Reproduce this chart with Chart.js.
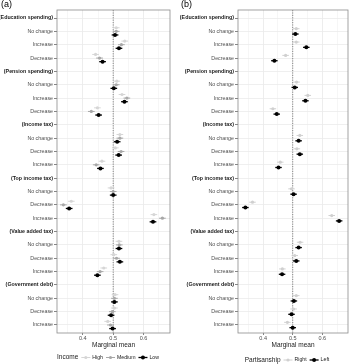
<!DOCTYPE html>
<html><head><meta charset="utf-8">
<script src="https://cdn.jsdelivr.net/npm/chart.js@4"></script>
<style>
html,body{margin:0;padding:0;background:#fff;}
#wrap{position:relative;width:350px;height:364px;}
canvas{position:absolute;top:0;}
#ca{left:0;} #cb{left:175px;}
</style></head><body>
<div id="wrap"><canvas id="ca" width="175" height="364"></canvas><canvas id="cb" width="175" height="364"></canvas></div>
<script>
const rowLabels = ['(Education spending)','No change','Increase','Decrease',
  '(Pension spending)','No change','Increase','Decrease',
  '(Income tax)','No change','Decrease','Increase',
  '(Top income tax)','No change','Decrease','Increase',
  '(Value added tax)','No change','Decrease','Increase',
  '(Government debt)','No change','Decrease','Increase'];
const xTickValues = [0.35,0.4,0.45,0.5,0.55,0.6,0.65];
const xTickLabels = ['','0.4','','0.5','','0.6',''];

const incomeHigh   = [null,0.510,0.538,0.442, null,0.512,0.529,0.448, null,0.522,0.507,0.463, null,0.493,0.362,0.634, null,0.519,0.502,0.469, null,0.506,0.504,0.482];
const incomeMedium = [null,0.510,0.527,0.455, null,0.510,0.545,0.428, null,0.522,0.526,0.444, null,0.500,0.336,0.662, null,0.520,0.511,0.457, null,0.504,0.497,0.491];
const incomeLow    = [null,0.506,0.519,0.465, null,0.502,0.537,0.452, null,0.513,0.518,0.458, null,0.500,0.355,0.631, null,0.519,0.522,0.448, null,0.504,0.493,0.498];
const partyRight   = [null,0.512,0.512,0.476, null,0.513,0.551,0.433, null,0.524,0.514,0.458, null,0.496,0.364,0.632, null,0.525,0.507,0.465, null,0.512,0.503,0.482];
const partyLeft    = [null,0.509,0.546,0.438, null,0.507,0.543,0.446, null,0.520,0.524,0.452, null,0.503,0.340,0.657, null,0.520,0.512,0.464, null,0.504,0.496,0.500];
const ciHalfWidth = 0.011;
const refValue = 0.5;

const FONT = "'Liberation Sans', Arial, sans-serif";

function pts(vals, off){
  const out=[];
  vals.forEach((v,i)=>{ if(v!==null) out.push({x:v,y:i+off,lo:v-ciHalfWidth,hi:v+ciHalfWidth}); });
  return out;
}
function isHeader(c){
  const i = c && c.tick ? Math.round(c.tick.value) : (c ? c.index : undefined);
  const l = rowLabels[i];
  return !!(l && l.startsWith('('));
}
function isMajorX(c){
  const v = c && c.tick ? c.tick.value : null;
  if(v===null) return false;
  const i = xTickValues.findIndex(t=>Math.abs(t-v)<1e-9);
  return !!xTickLabels[i];
}

const errorBars = {
  id:'errorBars',
  beforeDatasetDraw(chart,args){
    const ds = chart.data.datasets[args.index];
    if(!ds.isSeries) return;
    const {ctx, scales:{x,y}} = chart;
    ctx.save();
    ctx.strokeStyle = ds.barColor; ctx.lineWidth = ds.barWidth;
    ds.data.forEach(p=>{
      const py = y.getPixelForValue(p.y);
      ctx.beginPath();
      ctx.moveTo(x.getPixelForValue(p.lo),py);
      ctx.lineTo(x.getPixelForValue(p.hi),py);
      ctx.stroke();
    });
    ctx.restore();
  }
};

const frame = {
  id:'frame',
  afterDraw(chart,args,opts){
    const {ctx, chartArea:a} = chart;
    ctx.save();
    ctx.strokeStyle='#8c8c8c'; ctx.lineWidth=0.8;
    ctx.strokeRect(a.left,a.top,a.right-a.left,a.bottom-a.top);
    ctx.fillStyle='#000'; ctx.font='9px '+FONT; ctx.textBaseline='middle'; ctx.textAlign='left';
    ctx.fillText(opts.tag, opts.tagX, 5);
    const items = chart.data.datasets.filter(d=>d.isSeries).slice().reverse();
    ctx.font='6.5px '+FONT;
    const titleW = ctx.measureText(opts.legendTitle).width;
    ctx.font='5.2px '+FONT;
    const glyphW=9, gap1=2, gap2=3;
    let total = titleW + gap2;
    items.forEach(d=>{ total += glyphW + gap1 + ctx.measureText(d.label).width + gap2; });
    total -= gap2;
    let x0 = opts.legendCenter - total/2;
    const ly = opts.legendY;
    ctx.font='6.5px '+FONT; ctx.fillStyle='#1a1a1a';
    ctx.fillText(opts.legendTitle, x0, ly);
    x0 += titleW + gap2;
    items.forEach(d=>{
      ctx.strokeStyle=d.barColor; ctx.lineWidth=d.barWidth;
      ctx.beginPath(); ctx.moveTo(x0,ly); ctx.lineTo(x0+glyphW,ly); ctx.stroke();
      ctx.fillStyle=d.backgroundColor;
      ctx.beginPath(); ctx.arc(x0+glyphW/2,ly,d.pointRadius,0,Math.PI*2); ctx.fill();
      x0 += glyphW+gap1;
      ctx.font='5.2px '+FONT; ctx.fillStyle='#1a1a1a';
      ctx.fillText(d.label, x0, ly);
      x0 += ctx.measureText(d.label).width + gap2;
    });
    ctx.restore();
  }
};

function makeChart(id, series, opts){
  const datasets = series.map(s=>({
    label:s.label, isSeries:true, data:pts(s.values,s.offset),
    backgroundColor:s.color, borderColor:s.color, barColor:s.color,
    barWidth:s.lw, pointRadius:s.r, pointHoverRadius:s.r, borderWidth:0
  }));
  datasets.push({
    type:'line', label:'ref', data:[{x:refValue,y:-0.6},{x:refValue,y:rowLabels.length-0.4}],
    borderColor:'#6b6b6b', borderWidth:0.8, borderDash:[1.2,1.2], pointRadius:0, fill:false
  });
  return new Chart(document.getElementById(id),{
    type:'scatter',
    data:{datasets},
    plugins:[errorBars, frame],
    options:{
      responsive:false, animation:false, devicePixelRatio:1,
      layout:{padding:{top:10,right:opts.padRight,left:0,bottom:0}},
      plugins:{legend:{display:false},tooltip:{enabled:false},
        frame:{tag:opts.tag, tagX:opts.tagX, legendTitle:opts.legendTitle, legendCenter:opts.legendCenter, legendY:opts.legendY}},
      scales:{
        x:{type:'linear', min:0.315, max:0.687,
          afterBuildTicks:s=>{s.ticks=xTickValues.map(v=>({value:v}));},
          afterFit:s=>{s.height=31;},
          border:{display:false},
          grid:{color:c=>isMajorX(c)?'#e8e8e8':'#f4f4f4', lineWidth:0.8, tickLength:2,
            tickColor:c=>isMajorX(c)?'#666':'rgba(0,0,0,0)'},
          ticks:{padding:0.5, autoSkip:false, maxRotation:0, color:'#4d4d4d', font:{family:FONT,size:5.5},
            callback:(v,i)=>xTickLabels[i]},
          title:{display:true, text:'Marginal mean', color:'#1a1a1a', font:{family:FONT,size:6.5}, padding:{top:0,bottom:15}}
        },
        y:{type:'linear', reverse:true, min:-0.6, max:rowLabels.length-0.4,
          afterBuildTicks:s=>{s.ticks=rowLabels.map((_,i)=>({value:i}));},
          afterFit:s=>{s.width=opts.yWidth;},
          border:{display:false},
          grid:{color:'#ebebeb', lineWidth:0.8, tickLength:3, tickColor:'#666'},
          ticks:{padding:1, autoSkip:false, color:c=>isHeader(c)?'#1a1a1a':'#4d4d4d',
            font:c=>({family:FONT,size:5.3,weight:isHeader(c)?'bold':'normal'}),
            callback:(v,i)=>rowLabels[i]}
        }
      }
    }
  });
}

makeChart('ca',[
  {label:'Low', values:incomeLow, offset:0.27, color:'#000000', lw:1.3, r:2},
  {label:'Medium', values:incomeMedium, offset:0, color:'#a8a8a8', lw:1, r:1.6},
  {label:'High', values:incomeHigh, offset:-0.27, color:'#d6d6d6', lw:1, r:1.6}
],{tag:'(a)', tagX:1, padRight:5, yWidth:57, legendTitle:'Income', legendCenter:108, legendY:357.5});

makeChart('cb',[
  {label:'Left', values:partyLeft, offset:0.2, color:'#000000', lw:1.3, r:2},
  {label:'Right', values:partyRight, offset:-0.2, color:'#d0d0d0', lw:1, r:1.6}
],{tag:'(b)', tagX:6, padRight:1, yWidth:63, legendTitle:'Partisanship', legendCenter:112, legendY:360});
</script>
</body></html>
